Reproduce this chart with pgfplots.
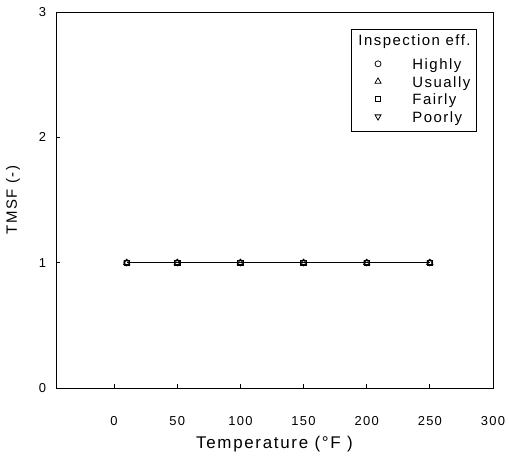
\documentclass[border=0pt]{standalone}
\usepackage{pgfplots}
\pgfplotsset{compat=1.18}
\usepackage{fontspec}
\setmainfont[LetterSpace=10]{Liberation Sans}
\begin{document}
\begin{tikzpicture}
\begin{axis}[
  name=ax,
  scale only axis,
  width=437bp, height=376bp,
  xmin=-46, xmax=300, ymin=0, ymax=3,
  xtick={0,50,100,150,200,250,300},
  ytick={0,1,2,3},
  xtick pos=bottom, ytick pos=left,
  tick align=inside,
  major tick length=4.5bp,
  tick style={line width=0.9pt, black},
  /pgf/number format/assume math mode=true,
  tick label style={font=\fontsize{13}{15}\selectfont},
  xticklabel style={yshift=-25bp},
  yticklabel style={xshift=-6.5bp},
  xlabel={Temperature (\textdegree F )},
  ylabel={TMSF (-)},
  xlabel style={font=\fontsize{17}{19}\selectfont, at={(axis description cs:0.5,-0.16)}, anchor=base},
  ylabel style={font=\fontsize{15}{17}\selectfont, at={(axis description cs:-0.0984,0.5)}, anchor=center},
  axis line style={line width=1pt},
  legend style={at={(axis description cs:1,1)}, anchor=north east,
    xshift=-16bp, yshift=-17bp,
    font=\fontsize{15}{17}\selectfont, draw=black, line width=0.8pt,
    nodes={inner sep=0pt, text height=11bp, text depth=4bp},
    row sep=2.6bp, inner xsep=6bp, inner ysep=5bp,
    /tikz/every odd column/.style={column sep=0pt}},
  legend cell align=left,
  mk/.style={only marks, mark options={line width=0.75pt},
    legend image code/.code={\path (-20bp,0) (34bp,0); \draw[##1] plot coordinates {(0bp,2.5bp)};}},
]
\addlegendimage{legend image code/.code={\path (0,-10bp) (0,11bp);}}
\addlegendentry{\hspace{-54bp}\raisebox{4bp}{Inspection eff.}}
\addplot[black, line width=0.8pt, forget plot] coordinates {(10,1) (50,1) (100,1) (150,1) (200,1) (250,1)};
\addplot[mk, mark=o, mark size=3pt] coordinates {(10,1) (50,1) (100,1) (150,1) (200,1) (250,1)};
\addlegendentry{Highly}
\addplot[mk, mark=triangle, mark size=3.5pt] coordinates {(10,1) (50,1) (100,1) (150,1) (200,1) (250,1)};
\addlegendentry{Usually}
\addplot[mk, mark=square, mark size=2.7pt] coordinates {(10,1) (50,1) (100,1) (150,1) (200,1) (250,1)};
\addlegendentry{Fairly}
\addplot[mk, mark=triangle, mark size=3.5pt, mark options={rotate=180}] coordinates {(10,1) (50,1) (100,1) (150,1) (200,1) (250,1)};
\addlegendentry{Poorly}
\end{axis}
\path ([shift={(-56bp,-68bp)}]ax.south west) rectangle ([shift={(16bp,12bp)}]ax.north east);
\end{tikzpicture}
\end{document}
